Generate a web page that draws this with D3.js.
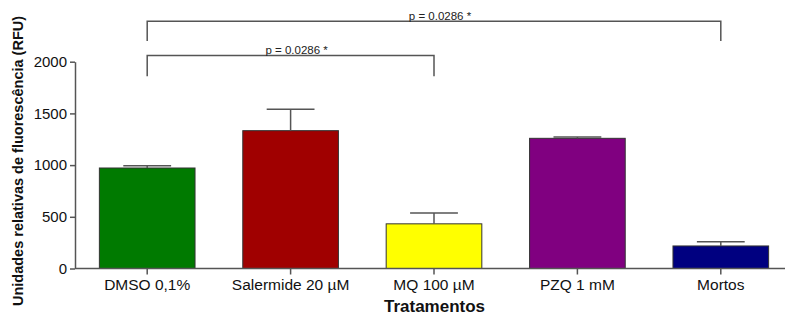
<!DOCTYPE html>
<html>
<head>
<meta charset="utf-8">
<script src="https://cdn.jsdelivr.net/npm/d3@7"></script>
<style>
  html, body { margin: 0; padding: 0; background: #fff; }
  svg { display: block; font-family: "Liberation Sans", Arial, sans-serif; }
</style>
</head>
<body>
<svg id="chart" width="786" height="320"></svg>
<script>
// Treatment groups and measured fluorescence (mean and upper error)
const categories = ["DMSO 0,1%", "Salermide 20 µM", "MQ 100 µM", "PZQ 1 mM", "Mortos"];
const means = [972, 1333, 432, 1259, 218];
const errors = [22, 207, 105, 13, 41];
const colors = ["#007a00", "#a00000", "#ffff00", "#800080", "#000080"];
const yTicks = [0, 500, 1000, 1500, 2000];
// Significance brackets: from group, to group, bracket value, label
const comparisons = [
  { from: "DMSO 0,1%", to: "Mortos", level: 2390, leg: 2200, label: "p = 0.0286 *" },
  { from: "DMSO 0,1%", to: "MQ 100 µM", level: 2060, leg: 1860, label: "p = 0.0286 *" }
];

const svg = d3.select("#chart");
const axisColor = "#555";

const x = d3.scaleBand()
  .domain(categories)
  .range([75, 793])
  .paddingInner(0.333)
  .paddingOuter(0.17);

const y = d3.scaleLinear()
  .domain([0, 2000])
  .range([268.5, 61.7]);

// Bars
svg.selectAll("rect.bar")
  .data(categories)
  .join("rect")
  .attr("class", "bar")
  .attr("x", d => x(d))
  .attr("width", x.bandwidth())
  .attr("y", (d, i) => y(means[i]))
  .attr("height", (d, i) => y(0) - y(means[i]))
  .attr("fill", (d, i) => colors[i])
  .attr("stroke", "#333")
  .attr("stroke-width", 1);

// Upper error bars
const errG = svg.append("g")
  .attr("stroke", axisColor)
  .attr("stroke-width", 1.5);
categories.forEach((c, i) => {
  const cx = x(c) + x.bandwidth() / 2;
  const half = x.bandwidth() / 4;
  errG.append("line")
    .attr("x1", cx).attr("x2", cx)
    .attr("y1", y(means[i])).attr("y2", y(means[i] + errors[i]));
  errG.append("line")
    .attr("x1", cx - half).attr("x2", cx + half)
    .attr("y1", y(means[i] + errors[i])).attr("y2", y(means[i] + errors[i]));
});

// Y axis
const yAxis = svg.append("g")
  .attr("transform", "translate(75,0)")
  .call(d3.axisLeft(y).tickValues(yTicks).tickFormat(d3.format("d"))
    .tickSize(5).tickPadding(3).tickSizeOuter(0));
yAxis.select(".domain").attr("stroke", axisColor).attr("stroke-width", 1.5);
yAxis.selectAll(".tick line").attr("stroke", axisColor).attr("stroke-width", 1.5);
yAxis.selectAll(".tick text")
  .attr("fill", "#111")
  .style("font-size", "15px")
  .style("font-family", "'Liberation Sans', Arial, sans-serif");

// X axis
const xAxis = svg.append("g")
  .attr("transform", `translate(0,${y(0)})`)
  .call(d3.axisBottom(x).tickSize(6).tickPadding(4).tickSizeOuter(0));
xAxis.select(".domain").attr("stroke", axisColor).attr("stroke-width", 1.5)
  .attr("d", `M75,0H785`);
xAxis.selectAll(".tick line").attr("stroke", axisColor).attr("stroke-width", 1.5);
xAxis.selectAll(".tick text")
  .attr("fill", "#111")
  .style("font-size", "15.5px")
  .style("font-family", "'Liberation Sans', Arial, sans-serif");

// Axis titles
svg.append("text")
  .attr("x", 434.5)
  .attr("y", 312)
  .attr("text-anchor", "middle")
  .style("font-size", "17px")
  .style("font-weight", "bold")
  .attr("fill", "#111")
  .text("Tratamentos");

svg.append("text")
  .attr("transform", "translate(23,161) rotate(-90)")
  .attr("text-anchor", "middle")
  .style("font-size", "14.5px")
  .style("font-weight", "bold")
  .attr("fill", "#111")
  .text("Unidades relativas de fluorescência (RFU)");

// Significance brackets
const br = svg.append("g");
comparisons.forEach(c => {
  const x1 = x(c.from) + x.bandwidth() / 2;
  const x2 = x(c.to) + x.bandwidth() / 2;
  const yl = y(c.level);
  const yLeg = y(c.leg);
  br.append("path")
    .attr("d", `M${x1},${yLeg}V${yl}H${x2}V${yLeg}`)
    .attr("fill", "none")
    .attr("stroke", axisColor)
    .attr("stroke-width", 1.5);
  br.append("text")
    .attr("x", (x1 + x2) / 2 + 6)
    .attr("y", yl - 1)
    .attr("text-anchor", "middle")
    .style("font-size", "11.5px")
    .attr("fill", "#222")
    .text(c.label);
});
</script>
</body>
</html>
